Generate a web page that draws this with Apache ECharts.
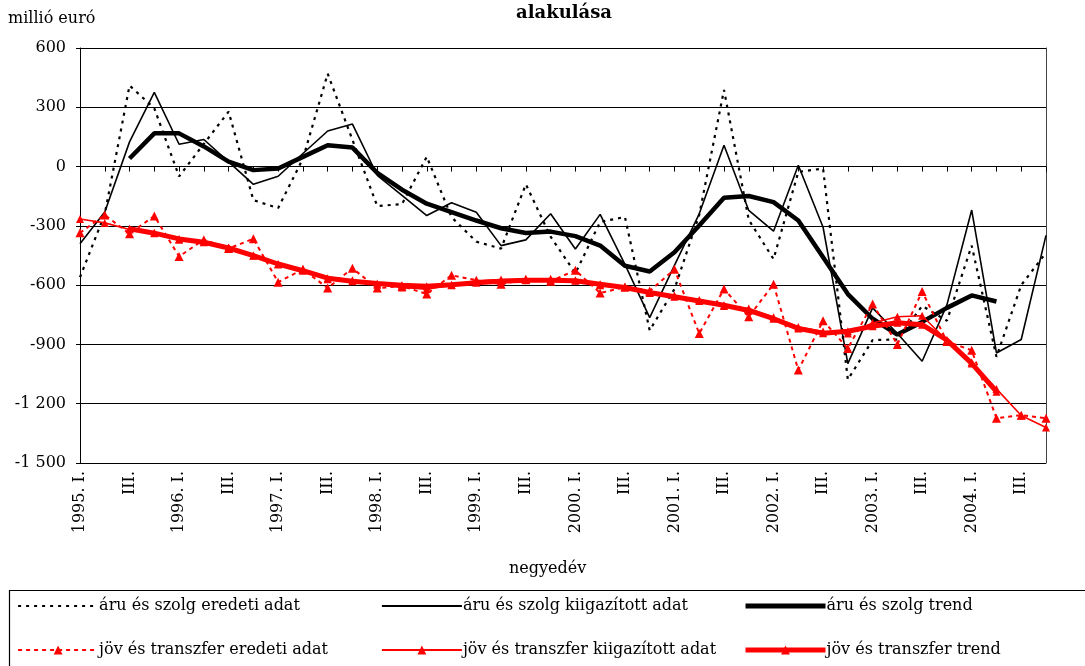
<!DOCTYPE html>
<html>
<head>
<meta charset="utf-8">
<script src="https://cdn.jsdelivr.net/npm/echarts@6/dist/echarts.min.js"></script>
<style>
  html, body { margin: 0; padding: 0; background: #fff; }
  #chart { width: 1085px; height: 666px; }
</style>
</head>
<body>
<div id="chart"></div>
<script>
// negyedévek 1995. I. - 2004. IV.
const categories = [
  '1995. I.', 'II.', 'III.', 'IV.',
  '1996. I.', 'II.', 'III.', 'IV.',
  '1997. I.', 'II.', 'III.', 'IV.',
  '1998. I.', 'II.', 'III.', 'IV.',
  '1999. I.', 'II.', 'III.', 'IV.',
  '2000. I.', 'II.', 'III.', 'IV.',
  '2001. I.', 'II.', 'III.', 'IV.',
  '2002. I.', 'II.', 'III.', 'IV.',
  '2003. I.', 'II.', 'III.', 'IV.',
  '2004. I.', 'II.', 'III.', 'IV.'
]

// áru és szolgáltatás
const aruEredeti = [
  -560, -240, 410, 295, -50, 115, 278, -170, -210, 40,
  470, 135, -200, -190, 50, -256, -380, -415, -90, -355,
  -540, -280, -255, -829, -620, -244, 388, -270, -468, -27,
  -10, -1078, -878, -875, -705, -780, -400, -963, -600, -436
]
const aruKiigazitott = [
  -390, -230, 125, 375, 113, 137, 24, -90, -49, 66,
  180, 215, -44, -146, -248, -183, -231, -400, -371, -239,
  -417, -242, -495, -764, -500, -239, 108, -222, -327, 7,
  -307, -997, -715, -845, -985, -700, -220, -943, -875, -348
]
const aruTrend = [
  null, null, 41, 168, 168, 102, 25, -18, -10, 49,
  108, 96, -32, -117, -188, -230, -273, -312, -336, -329,
  -352, -400, -502, -531, -434, -298, -158, -149, -180, -273,
  -459, -645, -770, -850, -786, -715, -652, -683, null, null
]

// jövedelem és transzfer
const jovEredeti = [
  -335, -245, -340, -250, -455, -370, -415, -365, -585, -520,
  -615, -515, -615, -605, -645, -550, -575, -595, -570, -580,
  -525, -640, -610, -630, -520, -845, -620, -760, -595, -1030,
  -780, -920, -695, -900, -632, -885, -930, -1273, -1258, -1273
]
const jovKiigazitott = [
  -265, -285, -318, -335, -370, -380, -410, -450, -495, -520,
  -570, -575, -598, -612, -620, -600, -578, -572, -570, -568,
  -575, -600, -610, -640, -652, -675, -705, -718, -762, -812,
  -835, -845, -792, -760, -755, -880, -990, -1125, -1260, -1320
]
const jovTrend = [
  null, null, -315, -337, -366, -383, -412, -451, -493, -527,
  -565, -580, -592, -600, -605, -598, -588, -580, -575, -575,
  -578, -595, -612, -637, -659, -680, -702, -728, -770, -819,
  -843, -833, -808, -790, -800, -878, -996, -1139, null, null
]

const FONT = 'DejaVu Serif'

const chart = echarts.init(document.getElementById('chart'))

// jelmagyarázat: 3 oszlop, 2 sor
const legendPos = [
  { name: 'áru és szolg eredeti adat', left: 17, top: 598, red: false, width: 2.2 },
  { name: 'áru és szolg kiigazított adat', left: 381, top: 598, red: false, width: 1.8 },
  { name: 'áru és szolg trend', left: 743, top: 598, red: false, width: 5 },
  { name: 'jöv és transzfer eredeti adat', left: 17, top: 642, red: true, width: 2.2 },
  { name: 'jöv és transzfer kiigazított adat', left: 381, top: 642, red: true, width: 1.8 },
  { name: 'jöv és transzfer trend', left: 743, top: 642, red: true, width: 5 }
]

chart.setOption({
  animation: false,
  backgroundColor: '#fff',
  textStyle: { fontFamily: FONT, color: '#000' },
  grid: { left: 80, right: 39, top: 48, bottom: 203 },
  graphic: [
    {
      type: 'text', left: 516, top: 4,
      style: { text: 'alakulása', font: 'bold 18px ' + FONT, fill: '#000' }
    },
    {
      type: 'text', left: 8, top: 11,
      style: { text: 'millió euró', font: '16px ' + FONT, fill: '#000' }
    },
    {
      type: 'text', left: 509, top: 561,
      style: { text: 'negyedév', font: '16px ' + FONT, fill: '#000' }
    },
    {
      type: 'rect', left: 7, top: 588,
      shape: { width: 1085, height: 80 },
      style: { fill: 'none', stroke: '#000', lineWidth: 1.2 }
    }
  ],
  legend: legendPos.map(p => ({
    data: [p.name],
    left: p.left,
    top: p.top,
    itemWidth: 80,
    itemHeight: 11,
    itemGap: 0,
    padding: 0,
    lineStyle: { width: p.width },
    itemStyle: p.red ? {} : { opacity: 0 },
    textStyle: { fontFamily: FONT, fontSize: 16, color: '#000', padding: [0, 0, 0, -4] },
    selectedMode: false
  })),
  xAxis: {
    type: 'category',
    data: categories,
    boundaryGap: false,
    axisLine: { lineStyle: { color: '#000', width: 1 } },
    axisTick: { show: true, interval: 0, length: 5, lineStyle: { color: '#000' } },
    axisLabel: {
      interval: 1,
      rotate: 90,
      margin: 8,
      fontFamily: FONT,
      fontSize: 16,
      color: '#000'
    },
    splitLine: { show: false }
  },
  yAxis: [
    {
      type: 'value',
      min: -1500,
      max: 600,
      interval: 300,
      axisLine: { show: true, lineStyle: { color: '#000' } },
      axisTick: { show: true, length: 4, lineStyle: { color: '#000' } },
      axisLabel: {
        fontFamily: FONT,
        fontSize: 16,
        color: '#000',
        margin: 14,
        formatter: v => {
          const s = String(Math.abs(v)).replace(/\B(?=(\d{3})+(?!\d))/g, ' ')
          return (v < 0 ? '-' : '') + s
        }
      },
      splitLine: { lineStyle: { color: '#000', width: 1 } }
    },
    {
      type: 'value',
      position: 'right',
      min: -1500,
      max: 600,
      interval: 300,
      axisLine: { show: true, lineStyle: { color: '#444' } },
      axisTick: { show: false },
      axisLabel: { show: false },
      splitLine: { show: false }
    }
  ],
  series: [
    {
      name: 'áru és szolg eredeti adat',
      type: 'line',
      data: aruEredeti,
      symbol: 'none',
      lineStyle: { color: '#000', width: 2.2, type: [3, 5] },
      itemStyle: { color: '#000' }
    },
    {
      name: 'áru és szolg kiigazított adat',
      type: 'line',
      data: aruKiigazitott,
      symbol: 'none',
      lineStyle: { color: '#000', width: 1.6 },
      itemStyle: { color: '#000' }
    },
    {
      name: 'áru és szolg trend',
      type: 'line',
      data: aruTrend,
      symbol: 'none',
      lineStyle: { color: '#000', width: 4.5 },
      itemStyle: { color: '#000' }
    },
    {
      name: 'jöv és transzfer eredeti adat',
      type: 'line',
      data: jovEredeti,
      symbol: 'triangle',
      symbolSize: 9,
      showAllSymbol: true,
      lineStyle: { color: '#ff0000', width: 2, type: [4, 4] },
      itemStyle: { color: '#ff0000' }
    },
    {
      name: 'jöv és transzfer kiigazított adat',
      type: 'line',
      data: jovKiigazitott,
      symbol: 'triangle',
      symbolSize: 8,
      showAllSymbol: true,
      lineStyle: { color: '#ff0000', width: 1.6 },
      itemStyle: { color: '#ff0000' }
    },
    {
      name: 'jöv és transzfer trend',
      type: 'line',
      data: jovTrend,
      symbol: 'triangle',
      symbolSize: 8,
      showAllSymbol: true,
      lineStyle: { color: '#ff0000', width: 5 },
      itemStyle: { color: '#ff0000' }
    }
  ]
})
</script>
</body>
</html>
